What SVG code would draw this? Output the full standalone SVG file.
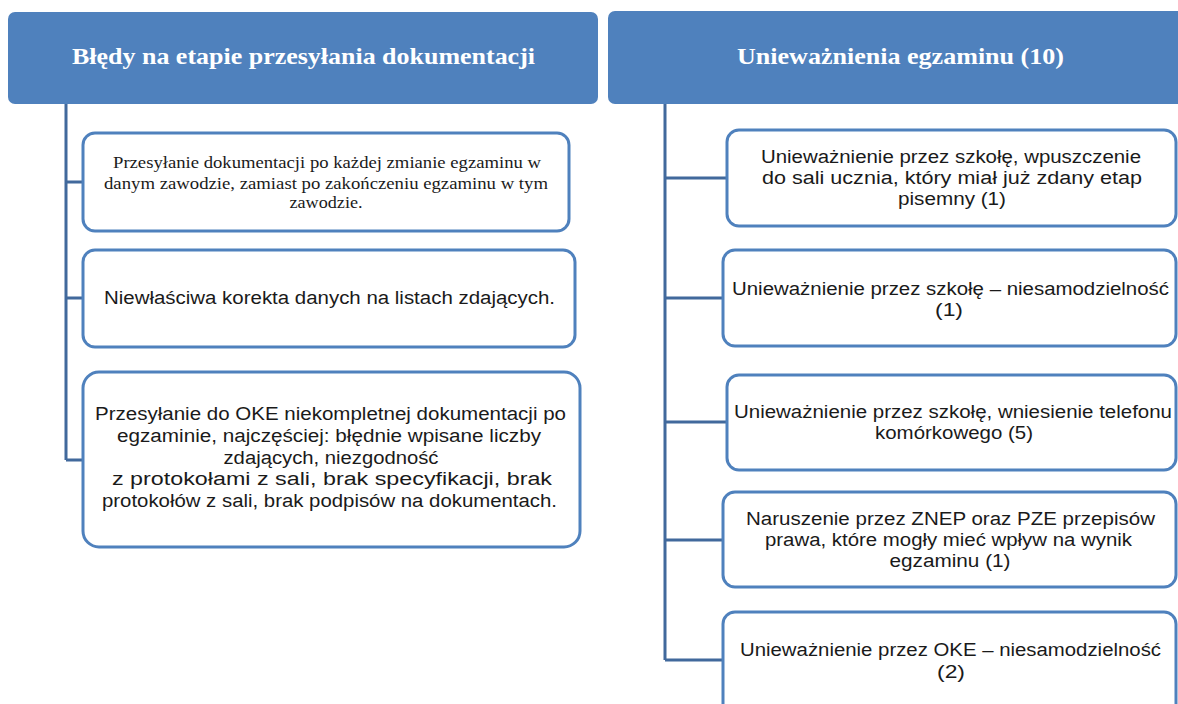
<svg xmlns="http://www.w3.org/2000/svg" width="1178" height="704" viewBox="0 0 1178 704">
<style>
.hdr{fill:#4f81bd;}
.htxt{font-family:"Liberation Serif",serif;font-weight:bold;font-size:23px;fill:#ffffff;text-anchor:middle;}
.box{fill:#ffffff;stroke:#4f81bd;stroke-width:3;}
.t{font-family:"Liberation Sans",Arial,sans-serif;font-size:18px;fill:#1a1a1a;text-anchor:middle;}
.ts{font-family:"Liberation Serif",serif;font-size:16px;fill:#1a1a1a;text-anchor:middle;}
.con{fill:none;stroke:#41699c;stroke-width:3;}
</style>
<rect width="1178" height="704" fill="#ffffff"/>
<g id="connectors">
<path class="con" d="M66,104 V460 M66,182 H85 M66,298 H85 M66,460 H85"/>
<path class="con" d="M665,104 V660 M665,178 H729 M665,298 H725 M665,422 H729 M665,540 H725 M665,660 H725"/>
</g>
<g id="hdr-left">
<rect class="hdr" x="8" y="12" width="590" height="92" rx="7"/>
<text class="htxt" x="303.5" y="64" textLength="463" lengthAdjust="spacingAndGlyphs">Błędy na etapie przesyłania dokumentacji</text>
</g>
<g id="hdr-right">
<rect class="hdr" x="608" y="11" width="600" height="93" rx="7"/>
<text class="htxt" x="900.5" y="64" textLength="327" lengthAdjust="spacingAndGlyphs">Unieważnienia egzaminu (10)</text>
</g>
<g id="l1">
<rect class="box" x="83" y="133" width="486" height="98" rx="12"/>
<text class="ts" x="327" y="168" textLength="428" lengthAdjust="spacingAndGlyphs">Przesyłanie dokumentacji po każdej zmianie egzaminu w</text>
<text class="ts" x="326" y="189" textLength="444" lengthAdjust="spacingAndGlyphs">danym zawodzie, zamiast po zakończeniu egzaminu w tym</text>
<text class="ts" x="326" y="208" textLength="73" lengthAdjust="spacingAndGlyphs">zawodzie.</text>
</g>
<g id="l2">
<rect class="box" x="83" y="250" width="492" height="97" rx="12"/>
<text class="t" x="329.5" y="304" textLength="451" lengthAdjust="spacingAndGlyphs">Niewłaściwa korekta danych na listach zdających.</text>
</g>
<g id="l3">
<rect class="box" x="83" y="372" width="497" height="175" rx="16"/>
<text class="t" x="330.5" y="420" textLength="471" lengthAdjust="spacingAndGlyphs">Przesyłanie do OKE niekompletnej dokumentacji po</text>
<text class="t" x="329" y="442" textLength="424" lengthAdjust="spacingAndGlyphs">egzaminie, najczęściej: błędnie wpisane liczby</text>
<text class="t" x="331" y="464" textLength="215" lengthAdjust="spacingAndGlyphs">zdających, niezgodność</text>
<text class="t" x="332" y="485" textLength="440" lengthAdjust="spacingAndGlyphs">z protokołami z sali, brak specyfikacji, brak</text>
<text class="t" x="329.5" y="507" textLength="455" lengthAdjust="spacingAndGlyphs">protokołów z sali, brak podpisów na dokumentach.</text>
</g>
<g id="r1">
<rect class="box" x="727" y="130" width="449" height="96" rx="12"/>
<text class="t" x="951" y="163" textLength="380" lengthAdjust="spacingAndGlyphs">Unieważnienie przez szkołę, wpuszczenie</text>
<text class="t" x="952" y="184" textLength="380" lengthAdjust="spacingAndGlyphs">do sali ucznia, który miał już zdany etap</text>
<text class="t" x="952" y="205" textLength="108" lengthAdjust="spacingAndGlyphs">pisemny (1)</text>
</g>
<g id="r2">
<rect class="box" x="723" y="250" width="453" height="96" rx="12"/>
<text class="t" x="950.5" y="295" textLength="437" lengthAdjust="spacingAndGlyphs">Unieważnienie przez szkołę – niesamodzielność</text>
<text class="t" x="949" y="316" textLength="28" lengthAdjust="spacingAndGlyphs">(1)</text>
</g>
<g id="r3">
<rect class="box" x="727" y="375" width="449" height="95" rx="12"/>
<text class="t" x="953" y="418" textLength="438" lengthAdjust="spacingAndGlyphs">Unieważnienie przez szkołę, wniesienie telefonu</text>
<text class="t" x="954" y="439" textLength="158" lengthAdjust="spacingAndGlyphs">komórkowego (5)</text>
</g>
<g id="r4">
<rect class="box" x="723" y="492" width="453" height="95" rx="12"/>
<text class="t" x="950.5" y="525" textLength="409" lengthAdjust="spacingAndGlyphs">Naruszenie przez ZNEP oraz PZE przepisów</text>
<text class="t" x="948.5" y="546" textLength="367" lengthAdjust="spacingAndGlyphs">prawa, które mogły mieć wpływ na wynik</text>
<text class="t" x="950" y="567" textLength="121" lengthAdjust="spacingAndGlyphs">egzaminu (1)</text>
</g>
<g id="r5">
<rect class="box" x="723" y="612" width="453" height="110" rx="12"/>
<text class="t" x="950.5" y="656" textLength="421" lengthAdjust="spacingAndGlyphs">Unieważnienie przez OKE – niesamodzielność</text>
<text class="t" x="951" y="678" textLength="28" lengthAdjust="spacingAndGlyphs">(2)</text>
</g>
</svg>
